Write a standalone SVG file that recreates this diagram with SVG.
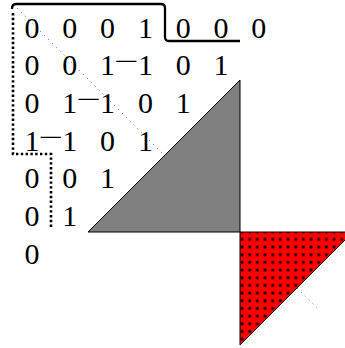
<svg xmlns="http://www.w3.org/2000/svg" width="345" height="348" viewBox="0 0 345 348">
<style>
.t text{font-size:30px;fill:#000;text-anchor:end;font-family:"Liberation Serif",serif}
.t text.mn{text-anchor:middle;font-size:29px}
</style>
<defs>
<pattern id="dots" patternUnits="userSpaceOnUse" x="238.165" y="227.865" width="7.67" height="7.67">
<rect x="2.5" y="2.5" width="2.7" height="2.7" fill="#000"/>
</pattern>
</defs>
<rect width="345" height="348" fill="#fff"/>
<g id="connectors">
<line id="diag" x1="17" y1="8" x2="318" y2="309" stroke="#666" stroke-width="1" stroke-dasharray="1 4.5"/>
</g>
<g id="gray-triangle">
<polygon points="240,80 88,232 240,232" fill="#808080" stroke="#000" stroke-width="1"/>
</g>
<g id="red-triangle">
<polygon points="240,232 353,232 240,345" fill="#ff0000"/>
<polygon points="240,232 353,232 240,345" fill="url(#dots)" stroke="#000" stroke-width="1"/>
</g>
<g id="matrix" class="t">
<text x="39.5" y="37.5">0</text><text x="77.3" y="37.5">0</text><text x="115.1" y="37.5">0</text><text x="152.9" y="37.5">1</text><text x="190.7" y="37.5">0</text><text x="228.5" y="37.5">0</text><text x="266.3" y="37.5">0</text>
<text x="39.5" y="75.2">0</text><text x="77.3" y="75.2">0</text><text x="115.1" y="75.2">1</text><text class="mn" transform="translate(126.3,71.2) scale(1.5,1)">−</text><text x="152.9" y="75.2">1</text><text x="190.7" y="75.2">0</text><text x="228.5" y="75.2">1</text>
<text x="39.5" y="112.9">0</text><text x="77.3" y="112.9">1</text><text class="mn" transform="translate(88.5,108.9) scale(1.5,1)">−</text><text x="115.1" y="112.9">1</text><text x="152.9" y="112.9">0</text><text x="190.7" y="112.9">1</text>
<text x="39.5" y="150.6">1</text><text class="mn" transform="translate(50.7,146.6) scale(1.5,1)">−</text><text x="77.3" y="150.6">1</text><text x="115.1" y="150.6">0</text><text x="152.9" y="150.6">1</text>
<text x="39.5" y="188.3">0</text><text x="77.3" y="188.3">0</text><text x="115.1" y="188.3">1</text>
<text x="39.5" y="226">0</text><text x="77.3" y="226">1</text>
<text x="39.5" y="263.7">0</text>
</g>
<g id="paths">
<path d="M12,9 Q12,4 16,4 H161 Q165,4 165,8 V37 Q165,41 169,41 H240" fill="none" stroke="#000" stroke-width="2.3"/>
<path d="M13,13 V154 H51 V227" fill="none" stroke="#000" stroke-width="2.6" stroke-dasharray="2.4 2.4"/>
</g>
</svg>
